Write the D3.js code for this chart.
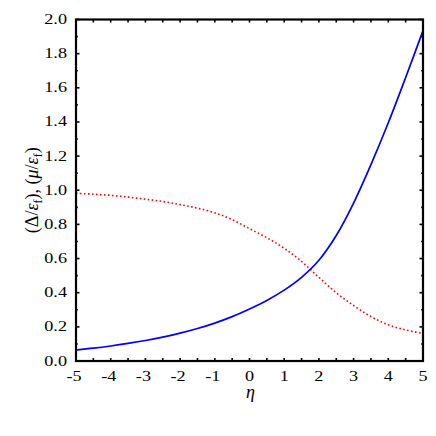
<!DOCTYPE html>
<html>
<head>
<meta charset="utf-8">
<script src="https://cdn.jsdelivr.net/npm/d3@7"></script>
<style>
  body { margin: 0; background: #fff; }
  svg text { font-family: "Liberation Serif", serif; }
</style>
</head>
<body>
<div id="chart"></div>
<script>
// Data
var eta = [-5, -4.5, -4, -3.5, -3, -2.5, -2, -1.5, -1, -0.5, 0, 0.5, 1, 1.5, 2, 2.5, 3, 3.5, 4, 4.5, 5];
var gap = [0.064, 0.075, 0.088, 0.103, 0.12, 0.14, 0.163, 0.19, 0.222, 0.26, 0.305, 0.355, 0.415, 0.49, 0.59, 0.735, 0.925, 1.15, 1.395, 1.66, 1.935];
var mu = [0.982, 0.977, 0.97, 0.96, 0.948, 0.934, 0.916, 0.895, 0.868, 0.828, 0.775, 0.722, 0.66, 0.583, 0.49, 0.4, 0.325, 0.26, 0.212, 0.182, 0.162];
var xTicks = [-5, -4, -3, -2, -1, 0, 1, 2, 3, 4, 5];
var yTicks = [0, 0.2, 0.4, 0.6, 0.8, 1.0, 1.2, 1.4, 1.6, 1.8, 2.0];

var svgWidth = 436;
var svgHeight = 436;
var margin = { top: 19.5, bottom: 75, right: 13, left: 76 };
var width = svgWidth - margin.left - margin.right;
var height = svgHeight - margin.top - margin.bottom;

var svg = d3.select("#chart")
  .append("svg")
  .attr("width", svgWidth)
  .attr("height", svgHeight);

var chartGroup = svg.append("g")
  .attr("transform", `translate(${margin.left}, ${margin.top})`);

var xScale = d3.scaleLinear().domain([-5, 5]).range([0, width]);
var yScale = d3.scaleLinear().domain([0, 2]).range([height, 0]);

// ticks pointing inward on all four sides
var xMinor = d3.range(-5, 5.01, 0.5);
var yMinor = d3.range(0, 2.001, 0.1);
var tickG = chartGroup.append("g").attr("stroke", "#000").attr("stroke-width", 1.6);

xMinor.forEach(function(v) {
  var len = 3;
  tickG.append("line").attr("x1", xScale(v)).attr("x2", xScale(v))
    .attr("y1", height).attr("y2", height - len);
  tickG.append("line").attr("x1", xScale(v)).attr("x2", xScale(v))
    .attr("y1", 0).attr("y2", len);
});
yMinor.forEach(function(v, i) {
  var len = (i % 2 === 0) ? 3.5 : 1.8;
  tickG.append("line").attr("y1", yScale(v)).attr("y2", yScale(v))
    .attr("x1", 0).attr("x2", len);
  tickG.append("line").attr("y1", yScale(v)).attr("y2", yScale(v))
    .attr("x1", width).attr("x2", width - len);
});

// curves
var line = d3.line()
  .x(function(d) { return xScale(d[0]); })
  .y(function(d) { return yScale(d[1]); })
  .curve(d3.curveCatmullRom.alpha(0.5));

chartGroup.append("path")
  .datum(eta.map(function(e, i) { return [e, mu[i]]; }))
  .attr("fill", "none")
  .attr("stroke", "#ff0000")
  .attr("stroke-width", 1.6)
  .attr("stroke-dasharray", "1.6,2.4")
  .attr("d", line);

chartGroup.append("path")
  .datum(eta.map(function(e, i) { return [e, gap[i]]; }))
  .attr("fill", "none")
  .attr("stroke", "#0000ff")
  .attr("stroke-width", 1.7)
  .attr("d", line);

// frame
chartGroup.append("rect")
  .attr("x", 0).attr("y", 0)
  .attr("width", width).attr("height", height)
  .attr("fill", "none")
  .attr("stroke", "#000")
  .attr("stroke-width", 2.2);

// tick labels (glyphs are stretched sideways in the original)
chartGroup.append("g").selectAll("text")
  .data(xTicks)
  .enter()
  .append("text")
  .attr("transform", d => `translate(${xScale(d) + (d < 0 ? -2 : 0)}, ${height + 20}) scale(1.3,1)`)
  .attr("text-anchor", "middle")
  .attr("font-size", 14)
  .text(d => d);

chartGroup.append("g").selectAll("text")
  .data(yTicks)
  .enter()
  .append("text")
  .attr("transform", d => `translate(-9, ${yScale(d) + 4.5}) scale(1.3,1)`)
  .attr("text-anchor", "end")
  .attr("font-size", 14)
  .text(d => d.toFixed(1));

// axis labels
chartGroup.append("text")
  .attr("x", xScale(0) + 1)
  .attr("y", height + 37)
  .attr("text-anchor", "middle")
  .attr("font-size", 18)
  .attr("font-style", "italic")
  .text("η");

var yLabel = chartGroup.append("text")
  .attr("transform", `translate(${38 - margin.left}, ${height / 2}) rotate(-90)`)
  .attr("text-anchor", "middle")
  .attr("font-size", 18);
yLabel.append("tspan").text("(Δ/");
yLabel.append("tspan").attr("font-style", "italic").text("ε");
yLabel.append("tspan").attr("font-size", 12).attr("dy", 4).text("f");
yLabel.append("tspan").attr("dy", -4).text("), (");
yLabel.append("tspan").attr("font-style", "italic").text("μ");
yLabel.append("tspan").text("/");
yLabel.append("tspan").attr("font-style", "italic").text("ε");
yLabel.append("tspan").attr("font-size", 12).attr("dy", 4).text("f");
yLabel.append("tspan").attr("dy", -4).text(")");
</script>
</body>
</html>
